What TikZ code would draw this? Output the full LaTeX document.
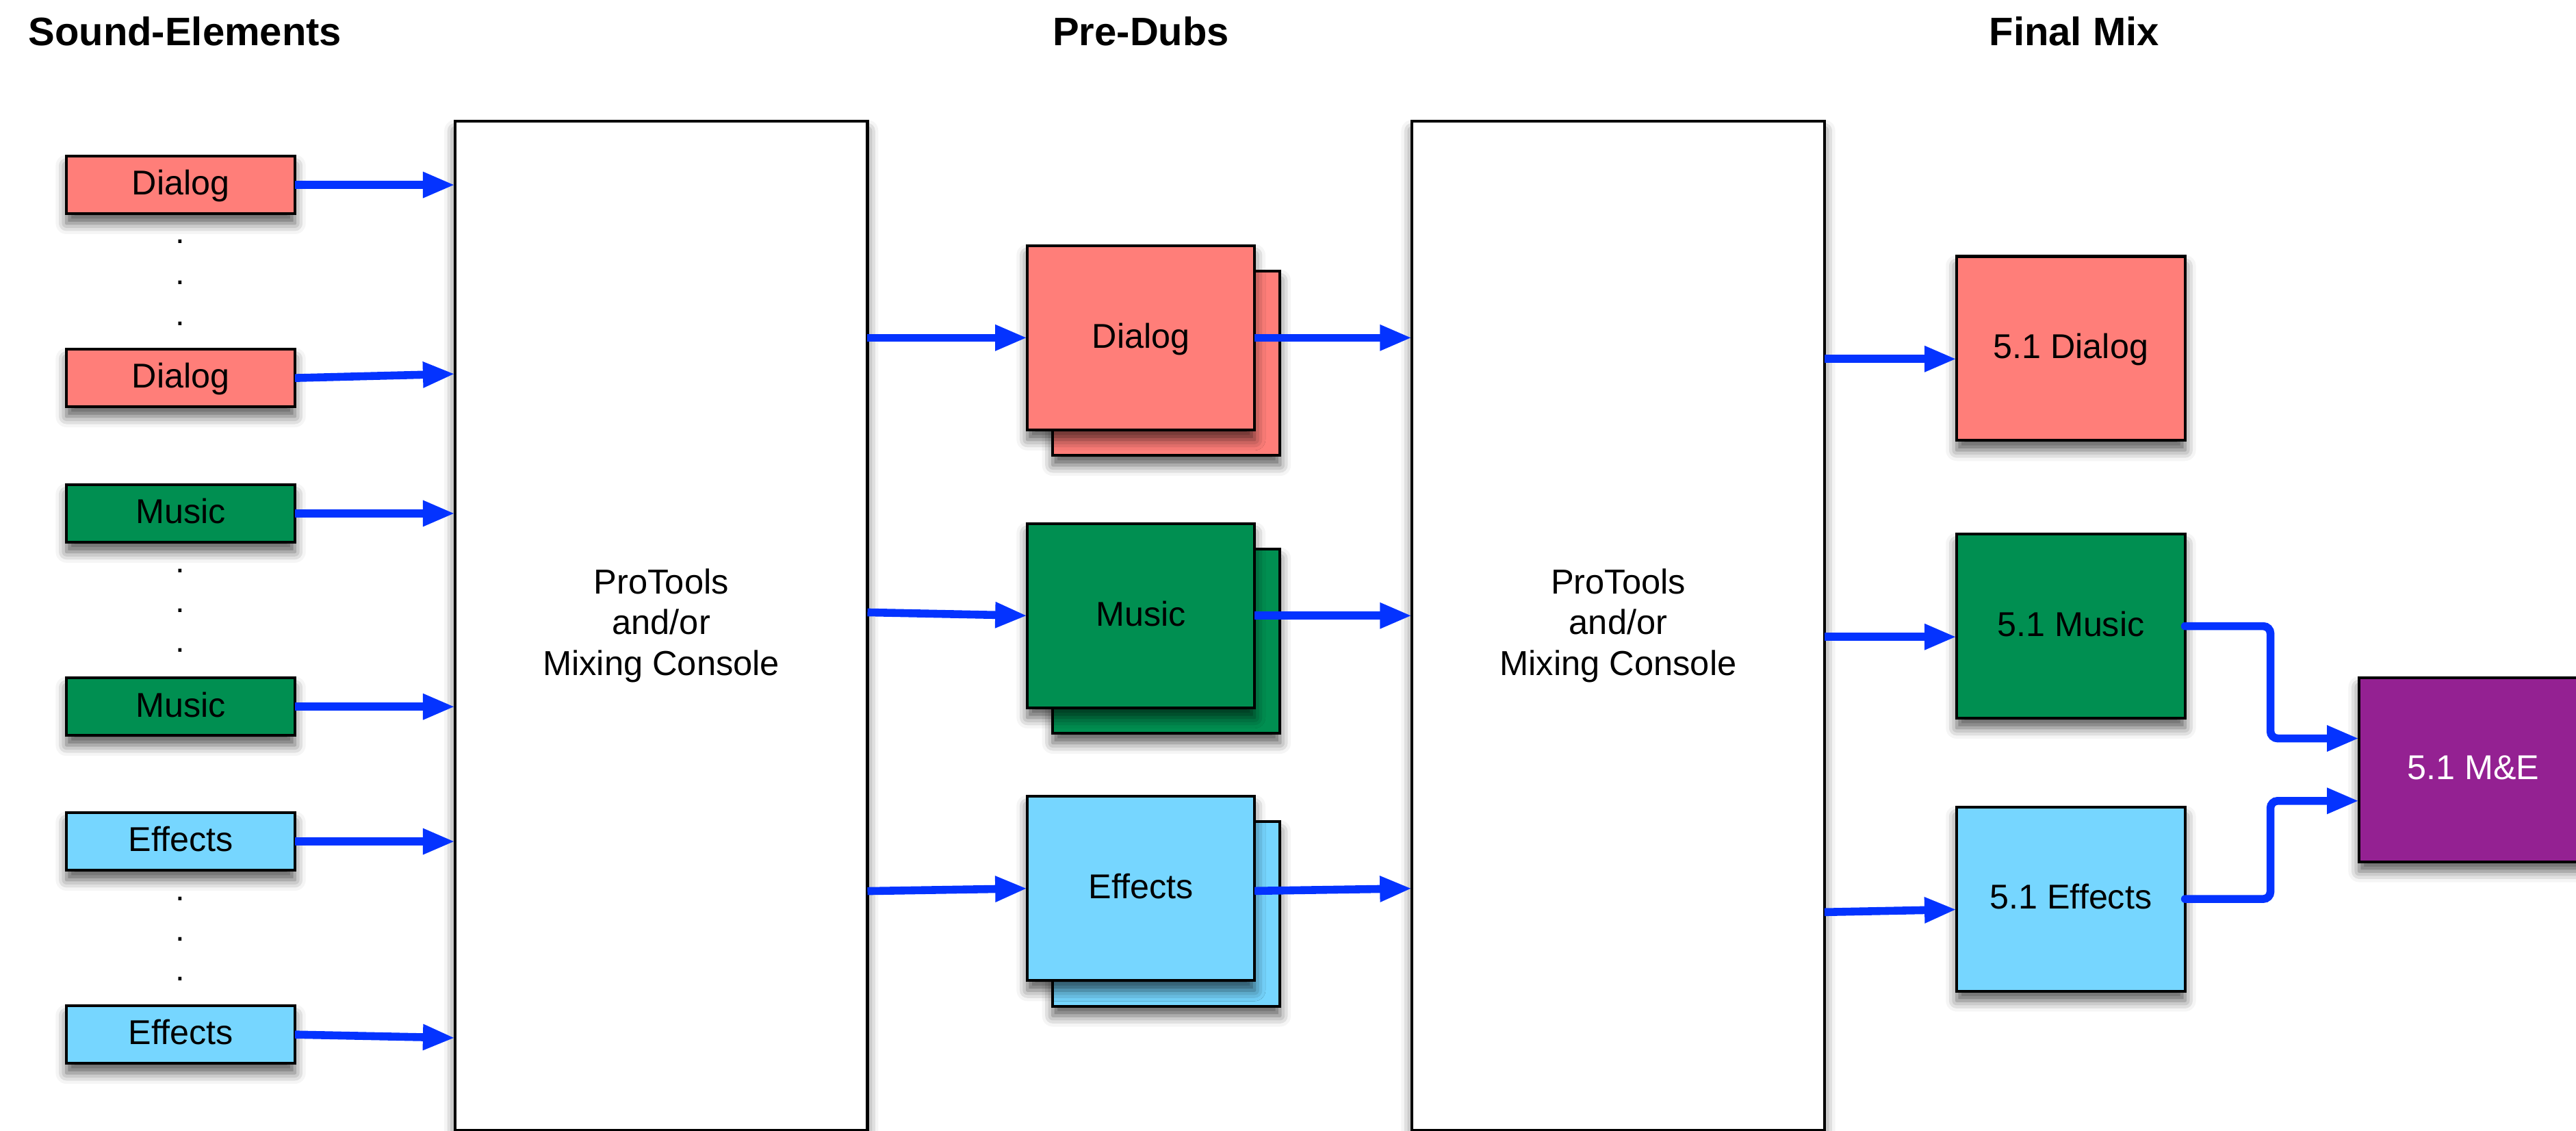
\documentclass[tikz,border=0pt]{standalone}
\usepackage{fontspec}
\setmainfont{Liberation Sans}
\usetikzlibrary{arrows.meta,shadows.blur,calc}
\definecolor{salmon}{HTML}{FF7E79}
\definecolor{moss}{HTML}{008F51}
\definecolor{sky}{HTML}{76D6FF}
\definecolor{plum}{HTML}{942192}
\definecolor{blueberry}{HTML}{0433FF}
\def\U{0.024005cm}
\begin{document}
\begin{tikzpicture}[x=\U, y=-\U,
  shad/.style={blur shadow={shadow xshift=0pt, shadow yshift=-4pt, shadow blur radius=4.5pt, shadow opacity=65}},
  box/.style={draw=black, line width=1.15pt, inner sep=0pt, outer sep=0pt,
    font=\fontsize{14.3}{17}\selectfont, text height=11pt, text depth=2.6pt, shad},
  small/.style={box, minimum width=139*\U, minimum height=35*\U},
  pd/.style={box, minimum width=138.3*\U, minimum height=112.2*\U},
  fin/.style={box, minimum width=139*\U, minimum height=112*\U},
  bigbox/.style={draw=black, fill=white, line width=1.15pt, inner sep=0pt, outer sep=0pt,
    minimum width=251*\U, minimum height=614*\U, align=center,
    font=\fontsize{14.4}{16.9}\selectfont, shad},
  ttl/.style={font=\fontsize{16.5}{19}\selectfont\bfseries, inner sep=0pt, anchor=base},
  dotn/.style={font=\fontsize{14}{16.8}\selectfont, inner sep=0pt},
  arr/.style={draw=blueberry, line width=3.3pt, -{Triangle[length=0.47cm,width=0.35cm]}},
  elb/.style={arr, line cap=round, rounded corners=3pt}
]
\useasboundingbox (0,0) rectangle (1568,688);

% titles
\node[ttl, anchor=base west] (t1) at (17,27.5) {Sound-Elements};
\node[ttl] (t2) at (694.5,27.5) {Pre-Dubs};
\node[ttl] (t3) at (1262.5,27.5) {Final Mix};

% big boxes
\node[bigbox] (big1) at (402.5,380.7) {ProTools\\and/or\\Mixing Console};
\node[bigbox] (big2) at (985,380.7) {ProTools\\and/or\\Mixing Console};

% sound elements
\node[small, fill=salmon] (d1) at (110,112.5) {Dialog};
\node[small, fill=salmon] (d2) at (110,230) {Dialog};
\node[small, fill=moss] (m1) at (110,312.4) {Music};
\node[small, fill=moss] (m2) at (110,430) {Music};
\node[small, fill=sky] (e1) at (110,512) {Effects};
\node[small, fill=sky] (e2) at (110,629.5) {Effects};

% dots
\node[dotn] (dd1) at (109.5,147) {.};
\node[dotn] (dd2) at (109.5,172) {.};
\node[dotn] (dd3) at (109.5,197) {.};
\node[dotn] (dm1) at (109.5,347.4) {.};
\node[dotn] (dm2) at (109.5,371.4) {.};
\node[dotn] (dm3) at (109.5,395.8) {.};
\node[dotn] (de1) at (109.5,546.8) {.};
\node[dotn] (de2) at (109.5,571.6) {.};
\node[dotn] (de3) at (109.5,595.7) {.};

% pre-dubs (back then front)
\node[pd, fill=salmon] (pdDb) at (710,221) {};
\node[pd, fill=salmon] (pdD) at (694.5,205.5) {Dialog};
\node[pd, fill=moss] (pdMb) at (710,390.1) {};
\node[pd, fill=moss] (pdM) at (694.5,374.6) {Music};
\node[pd, fill=sky] (pdEb) at (710,556.1) {};
\node[pd, fill=sky] (pdE) at (694.5,540.6) {Effects};

% final mix
\node[fin, fill=salmon] (fD) at (1260.5,212) {5.1 Dialog};
\node[fin, fill=moss] (fM) at (1260.5,381) {5.1 Music};
\node[fin, fill=sky] (fE) at (1260.5,547) {5.1 Effects};
\node[fin, fill=plum, text=white] (me) at (1505.5,468.3) {5.1 M\&E};

% arrows: sound elements -> console 1
\draw[arr] (d1.east) -- (d1.east -| big1.west);
\draw[arr] (d2.east) -- ($(d2.east -| big1.west)+(0,-2.5)$);
\draw[arr] (m1.east) -- (m1.east -| big1.west);
\draw[arr] (m2.east) -- (m2.east -| big1.west);
\draw[arr] (e1.east) -- (e1.east -| big1.west);
\draw[arr] (e2.east) -- ($(e2.east -| big1.west)+(0,2)$);

% console 1 -> pre-dubs
\draw[arr] (pdD.west -| big1.east) -- (pdD.west);
\draw[arr] ($(pdM.west -| big1.east)+(0,-2)$) -- (pdM.west);
\draw[arr] ($(pdE.west -| big1.east)+(0,1.6)$) -- (pdE.west);

% pre-dubs -> console 2
\draw[arr] (pdD.east) -- (pdD.east -| big2.west);
\draw[arr] (pdM.east) -- (pdM.east -| big2.west);
\draw[arr] ($(pdE.east)+(0,1.5)$) -- (pdE.east -| big2.west);

% console 2 -> final
\draw[arr] ($(fD.west -| big2.east)+(0,6.4)$) -- ($(fD.west)+(0,6.4)$);
\draw[arr] ($(fM.west -| big2.east)+(0,6.5)$) -- ($(fM.west)+(0,6.5)$);
\draw[arr] ($(fE.west -| big2.east)+(0,8)$) -- ($(fE.west)+(0,6.4)$);

% final -> M&E
\coordinate (jx) at (1382,468.3);
\draw[elb] (fM.east) -| ($(jx)+(0,-19)$) -- ($(me.west)+(0,-19)$);
\draw[elb] (fE.east) -| ($(jx)+(0,19)$) -- ($(me.west)+(0,19)$);
\end{tikzpicture}
\end{document}
